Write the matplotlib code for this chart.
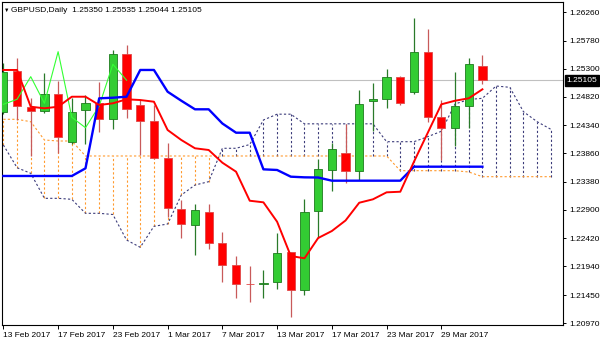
import numpy as np
import matplotlib
matplotlib.use("Agg")
import matplotlib.pyplot as plt
import matplotlib.transforms as mtransforms

plt.rcParams['font.family'] = ['Liberation Sans', 'DejaVu Sans']

# dati ----------------------------------------------------------------------
date_ticks  = [0, 4, 8, 12, 16, 20, 24, 28, 32]
date_labels = ["13 Feb 2017", "17 Feb 2017", "23 Feb 2017", "1 Mar 2017", "7 Mar 2017",
               "13 Mar 2017", "17 Mar 2017", "23 Mar 2017", "29 Mar 2017"]

price_ticks = [1.26260, 1.25780, 1.25300, 1.24820, 1.24340, 1.23860,
               1.23380, 1.22900, 1.22420, 1.21940, 1.21450, 1.20970]

opens  = [1.24559, 1.25256, 1.24649, 1.24581, 1.24875, 1.24059, 1.24598, 1.24712, 1.24440, 1.25546,
          1.24683, 1.24411, 1.23782, 1.22909, 1.22637, 1.22863, 1.22341, 1.21956, 1.21645, 1.21642,
          1.21667, 1.22178, 1.21536, 1.22875, 1.23578, 1.23862, 1.23561, 1.24751, 1.24780, 1.25165,
          1.24899, 1.25580, 1.24484, 1.24297, 1.24666, 1.25350]
highs  = [1.25398, 1.25478, 1.24797, 1.25233, 1.25097, 1.24797, 1.24853, 1.25080, 1.25619, 1.25704,
          1.24768, 1.24683, 1.24042, 1.23067, 1.22999, 1.22999, 1.22518, 1.22120, 1.21945, 1.21877,
          1.22501, 1.22190, 1.23079, 1.23760, 1.24042, 1.24360, 1.24938, 1.25052, 1.25301, 1.25180,
          1.26168, 1.25971, 1.24768, 1.25250, 1.25478, 1.25535]
lows   = [1.24530, 1.24428, 1.23816, 1.24542, 1.23872, 1.24015, 1.24015, 1.24229, 1.24275, 1.24457,
          1.23833, 1.23770, 1.22783, 1.22416, 1.22132, 1.22229, 1.21678, 1.21395, 1.21337, 1.21395,
          1.21548, 1.21082, 1.21451, 1.22416, 1.23220, 1.23351, 1.23402, 1.24241, 1.24627, 1.24683,
          1.24865, 1.24399, 1.23748, 1.23986, 1.24297, 1.25044]
closes = [1.25239, 1.24661, 1.24581, 1.24870, 1.24144, 1.24569, 1.24712, 1.24440, 1.25546, 1.24610,
          1.24411, 1.23777, 1.22936, 1.22659, 1.22892, 1.22341, 1.21956, 1.21638, 1.21633, 1.21655,
          1.22161, 1.21536, 1.22863, 1.23589, 1.23930, 1.23561, 1.24695, 1.24780, 1.25165, 1.24712,
          1.25590, 1.24474, 1.24297, 1.24666, 1.25376, 1.25105]

tenkan = [1.25279, 1.25279, 1.24654, 1.24627, 1.24654, 1.24824, 1.24824, 1.24683, 1.24712, 1.24780,
          1.24768, 1.24739, 1.24258, 1.24088, 1.23947, 1.23918, 1.23702, 1.23549, 1.23055, 1.23028,
          1.22698, 1.22115, 1.22076, 1.22421, 1.22540, 1.22719, 1.23021, 1.23079, 1.23198, 1.23208,
          1.23719, 1.24207, 1.24695, 1.24756, 1.24797, 1.24950]
kijun  = [1.23476, 1.23476, 1.23476, 1.23476, 1.23476, 1.23476, 1.23606, 1.24797, 1.24807, 1.24824,
          1.25279, 1.25279, 1.24909, 1.24756, 1.24610, 1.24610, 1.24369, 1.24212, 1.24212, 1.23589,
          1.23578, 1.23464, 1.23453, 1.23450, 1.23396, 1.23396, 1.23396, 1.23396, 1.23396, 1.23396,
          1.23634, 1.23634, 1.23634, 1.23634, 1.23634, 1.23634]
# chikou: chiusure delle ultime 10 barre riportate 26 barre indietro
chikou = [1.24695, 1.24780, 1.25165, 1.24712, 1.25590, 1.24474, 1.24297, 1.24666, 1.25376, 1.25105]

span_a = [1.24003, 1.23617, 1.23521, 1.23096, 1.23096, 1.23079, 1.22841, 1.22841, 1.22821, 1.22387,
          1.22263, 1.22620, 1.22659, 1.23152, 1.23322, 1.23379, 1.23947, 1.23947, 1.24011, 1.24428,
          1.24527, 1.24527, 1.24363, 1.24363, 1.24363, 1.24363, 1.24363, 1.24363, 1.24059, 1.24059,
          1.24059, 1.24144, 1.24236, 1.24700, 1.24777, 1.24797, 1.25006, 1.24984, 1.24569, 1.24399,
          1.24270]
span_b = [1.24440, 1.24440, 1.24399, 1.24088, 1.24071, 1.24071, 1.23816, 1.23816, 1.23816, 1.23816,
          1.23816, 1.23816, 1.23816, 1.23816, 1.23816, 1.23816, 1.23816, 1.23816, 1.23816, 1.23816,
          1.23816, 1.23816, 1.23816, 1.23816, 1.23816, 1.23816, 1.23816, 1.23816, 1.23816, 1.23566,
          1.23566, 1.23566, 1.23566, 1.23566, 1.23544, 1.23464, 1.23464, 1.23464, 1.23464, 1.23464,
          1.23464]

last_price = 1.25105

# grafica --------------------------------------------------------------------
fig = plt.figure(figsize=(6.0, 3.43), dpi=100)
ax = fig.add_axes([2/600, 1 - 324.5/343, 561.3/600, 322.5/343])

bars  = np.arange(len(opens))
cloud = np.arange(len(span_a))
o = np.array(opens); c = np.array(closes)
up = c >= o

col_navy   = "#3b3b7a"
col_orange = "#ff9a2e"

# nuvola: tratteggio verticale tra le due span
for i in cloud:
    a, b = span_a[i], span_b[i]
    col = col_navy if a > b else col_orange
    ax.vlines(i, min(a, b), max(a, b), colors=col, linewidth=0.8,
              linestyles=(0, (2, 2)), zorder=1)
ax.plot(cloud, span_a, color=col_navy, linewidth=0.8, linestyle=(0, (2, 2)), zorder=1.2)
ax.plot(cloud, span_b, color=col_orange, linewidth=0.8, linestyle=(0, (2, 2)), zorder=1.2)

ax.axhline(last_price, color="#c0c0c0", linewidth=0.8, zorder=0.5)

# candele
wick_col = np.where(up, "#2a7a2a", "#c85a5a")
ax.vlines(bars, lows, highs, colors=wick_col, linewidth=0.9, zorder=2)
body_fill = np.where(up, "#33cc33", "#ff0000")
body_edge = np.where(up, "#1e7b1e", "#e04848")
ax.bar(bars, np.abs(c - o), bottom=np.minimum(o, c), width=0.6,
       color=body_fill, edgecolor=body_edge, linewidth=0.6, zorder=3)

# linee ichimoku
ax.plot(bars[:len(chikou)], chikou, color="#33ff33", linewidth=0.8, zorder=4)
ax.plot(bars, tenkan, color="#ff0000", linewidth=1.4, zorder=4.2)
ax.plot(bars, kijun, color="#0000ff", linewidth=1.7, zorder=4.1)

ax.set_xlim(-0.10, 40.91)
ax.set_ylim(1.20950, 1.26435)

for s in ax.spines.values():
    s.set_linewidth(0.8)
    s.set_color("black")

ax.yaxis.tick_right()
ax.set_yticks(price_ticks)
ax.set_yticklabels(["%.5f" % v for v in price_ticks])
ax.tick_params(axis="y", direction="out", length=2.5, width=0.7, pad=1.5, labelsize=6)
ax.set_xticks(date_ticks)
ax.set_xticklabels(date_labels, ha="left")
ax.tick_params(axis="x", direction="out", length=3, width=0.7, pad=2.5, labelsize=6)

trans = mtransforms.blended_transform_factory(ax.transAxes, ax.transData)
ax.text(1.006, last_price, "%.5f" % last_price, transform=trans, ha="left", va="center",
        color="white", fontsize=6, zorder=10,
        bbox=dict(facecolor="black", edgecolor="black", pad=1.3))

fig.text(3.5/600, 1 - 10/343, "\u25bc", fontsize=4, va="center", ha="left")
fig.text(11/600, 1 - 10/343, "GBPUSD,Daily  1.25350 1.25535 1.25044 1.25105",
         fontsize=6, va="center", ha="left")

fig.savefig("out.png", dpi=100)
